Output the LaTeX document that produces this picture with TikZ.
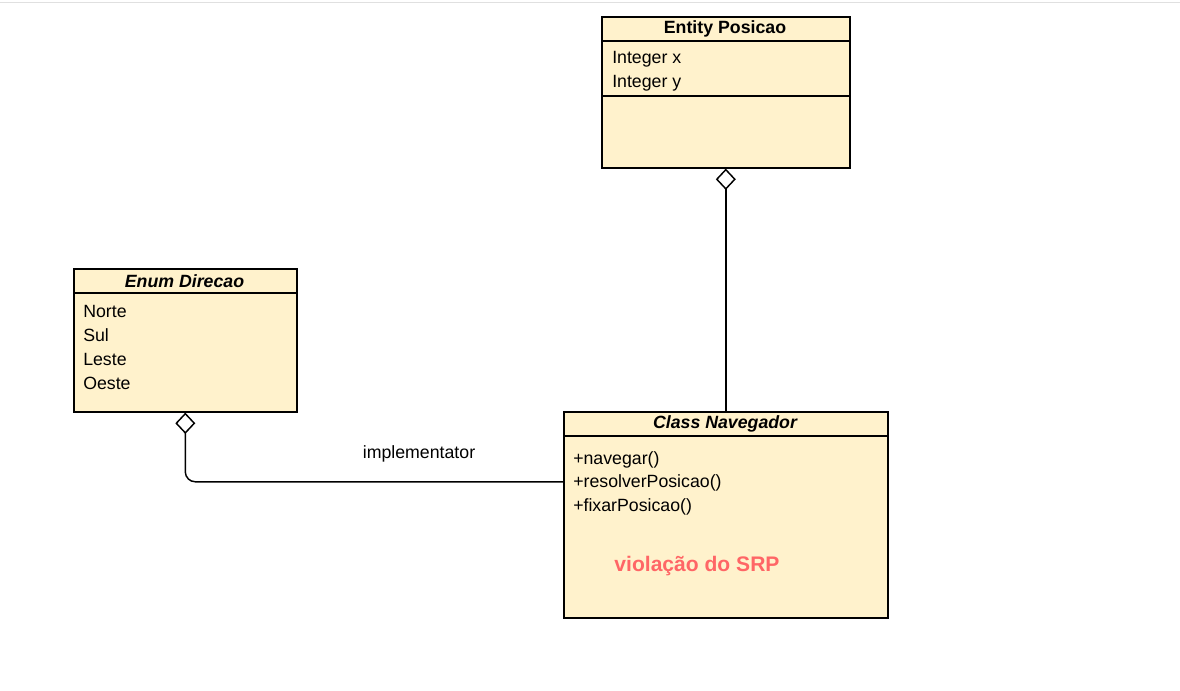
\documentclass[tikz,border=0pt]{standalone}
\usepackage{fontspec}
\setmainfont{Liberation Sans}
\usetikzlibrary{arrows.meta}
\definecolor{umlfill}{HTML}{FFF2CC}
\definecolor{srpred}{HTML}{FF6666}
\tikzstyle{umlbox}=[rectangle,draw=black,fill=umlfill,line width=1.2pt,
                    anchor=north west,inner sep=0pt]
\tikzstyle{umltitle}=[inner sep=0pt,font=\fontsize{13.3}{16}\selectfont\bfseries]
\tikzstyle{umlitem}=[inner sep=0pt,anchor=west,font=\fontsize{13.3}{16}\selectfont]
\tikzstyle{agg}=[draw=black,line width=1.1pt,
                 -{Diamond[open,length=16pt,width=15pt,line width=1.1pt]}]

\begin{document}
\begin{tikzpicture}[x=0.75pt,y=-0.75pt]
    \useasboundingbox (0,0) rectangle (1180,691);
    \draw[line width=0.75pt,draw=black!12] (0,2.5) -- (1180,2.5);
    % Entity Posicao
    \node (pos) at (601,16) [umlbox,minimum width=186pt,minimum height=113.25pt]{};
    \draw[line width=1.2pt] (601,41) -- (849,41) (601,96) -- (849,96);
    \node (posT) at (725,29) [umltitle]{Entity Posicao};
    \node (posX) at (612,59.5) [umlitem]{Integer x};
    \node (posY) at (612,83.5) [umlitem]{Integer y};
    % Enum Direcao
    \node (dir) at (73,268) [umlbox,minimum width=167.25pt,minimum height=107.25pt]{};
    \draw[line width=1.2pt] (73,293) -- (296,293);
    \node (dirT) at (184.5,281) [umltitle]{\itshape Enum Direcao};
    \node (dirN) at (83,311.5) [umlitem]{Norte};
    \node (dirS) at (83,335.5) [umlitem]{Sul};
    \node (dirL) at (83,359.5) [umlitem]{Leste};
    \node (dirO) at (83,383.5) [umlitem]{Oeste};
    % Class Navegador
    \node (nav) at (563,411) [umlbox,minimum width=243pt,minimum height=154.5pt]{};
    \draw[line width=1.2pt] (563,436) -- (887,436);
    \node (navT) at (725,424) [umltitle]{\itshape Class Navegador};
    \node (navA) at (573,459.5) [umlitem]{+navegar()};
    \node (navB) at (573,482.5) [umlitem]{+resolverPosicao()};
    \node (navC) at (573,506.5) [umlitem]{+fixarPosicao()};
    \node (srp) at (697,566) [umltitle,text=srpred,
                              font=\fontsize{15.8}{18}\selectfont\bfseries]{violação do SRP};
    % ligacoes
    \draw[agg] (nav.north) -- (pos.south);
    \draw[agg,rounded corners=7.5pt] ([yshift=24.75pt]nav.west) -| (dir.south);
    \node (impl) at (419,454) [umlitem,anchor=center]{implementator};
\end{tikzpicture}
\end{document}
